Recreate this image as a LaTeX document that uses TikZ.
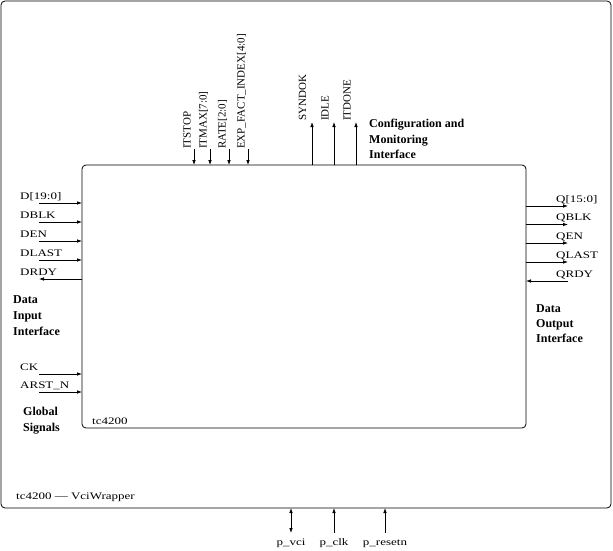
\documentclass[tikz,border=0pt]{standalone}
\usepackage{fontspec}
\setmainfont{Liberation Serif}
\newfontfamily\lblfont[FakeStretch=1.3]{Liberation Serif}
\usetikzlibrary{arrows.meta}
\tikzset{
  sig/.style={line width=0.8pt},
  tip/.style={-{Latex[length=5pt,width=3.6pt]}},
  tiptwo/.style={{Latex[length=5pt,width=3.6pt]}-{Latex[length=5pt,width=3.6pt]}},
  hlabel/.style={font=\lblfont\fontsize{10}{12}\selectfont, anchor=base west, inner sep=0pt},
  vlabel/.style={font=\fontsize{11}{13}\selectfont, rotate=90, anchor=base west, inner sep=0pt},
  grouplbl/.style={font=\bfseries\fontsize{12}{14}\selectfont, anchor=base west, inner sep=0pt},
  box/.style={draw, line width=0.8pt, rounded corners=4pt, inner sep=0pt, outer sep=0pt}
}
\begin{document}
\begin{tikzpicture}[x=1pt,y=-1pt]
\useasboundingbox (0,0) rectangle (613,551);
% boxes
\node[box, minimum width=610pt, minimum height=507pt, anchor=north west] (wrap) at (1,1) {};
\node[box, minimum width=444pt, minimum height=263pt, anchor=north west] (core) at (82,165) {};

% top inputs
\coordinate (itstopS) at (194,149);
\coordinate (itmaxS) at (210,149);
\coordinate (rateS) at (229,149);
\coordinate (expS) at (248,149);
\foreach \c in {itstopS,itmaxS,rateS,expS}{\draw[sig,tip] (\c) -- (\c |- core.north);}
\node[vlabel] (itstopL) at (190.5,149) {ITSTOP};
\node[vlabel] (itmaxL) at (206.5,149) {ITMAX[7:0]};
\node[vlabel] (rateL) at (225.5,149) {RATE[2:0]};
\node[vlabel] (expL) at (244.5,149) {EXP\_FACT\_INDEX[4:0]};

% top outputs
\coordinate (syndokE) at (312,122);
\coordinate (idleE) at (334,122);
\coordinate (itdoneE) at (356,122);
\foreach \c in {syndokE,idleE,itdoneE}{\draw[sig,tip] (\c |- core.north) -- (\c);}
\node[vlabel] (syndokL) at (306,121) {SYNDOK};
\node[vlabel] (idleL) at (328.5,121) {IDLE};
\node[vlabel] (itdoneL) at (350.5,121) {ITDONE};
\node[grouplbl] (cfg1) at (369,127) {Configuration and};
\node[grouplbl] (cfg2) at (369,143) {Monitoring};
\node[grouplbl] (cfg3) at (369,158) {Interface};

% left side
\coordinate (dS) at (39,203);
\coordinate (dblkS) at (39,222);
\coordinate (denS) at (39,241);
\coordinate (dlastS) at (39,260);
\coordinate (drdyE) at (39,279);
\coordinate (ckS) at (39,374);
\coordinate (arstS) at (39,392);
\foreach \c in {dS,dblkS,denS,dlastS,ckS,arstS}{\draw[sig,tip] (\c) -- (\c -| core.west);}
\draw[sig,tip] (drdyE -| core.west) -- (drdyE);
\node[hlabel] (dL) at (20,199) {D[19:0]};
\node[hlabel] (dblkL) at (20,218) {DBLK};
\node[hlabel] (denL) at (20,237) {DEN};
\node[hlabel] (dlastL) at (20,256) {DLAST};
\node[hlabel] (drdyL) at (20,275) {DRDY};
\node[hlabel] (ckL) at (20,370) {CK};
\node[hlabel] (arstL) at (20,388) {ARST\_N};
\node[grouplbl] (din1) at (13,303) {Data};
\node[grouplbl] (din2) at (13,319) {Input};
\node[grouplbl] (din3) at (13,335) {Interface};
\node[grouplbl] (gs1) at (23,415) {Global};
\node[grouplbl] (gs2) at (23,431) {Signals};

% right side
\coordinate (qE) at (568,206);
\coordinate (qblkE) at (568,224.5);
\coordinate (qenE) at (568,243);
\coordinate (qlastE) at (568,262);
\coordinate (qrdyS) at (568,281);
\foreach \c in {qE,qblkE,qenE,qlastE}{\draw[sig,tip] (\c -| core.east) -- (\c);}
\draw[sig,tip] (qrdyS) -- (qrdyS -| core.east);
\node[hlabel] (qL) at (556,202) {Q[15:0]};
\node[hlabel] (qblkL) at (556,220.5) {QBLK};
\node[hlabel] (qenL) at (556,239) {QEN};
\node[hlabel] (qlastL) at (556,258) {QLAST};
\node[hlabel] (qrdyL) at (556,277) {QRDY};
\node[grouplbl] (dout1) at (536,312) {Data};
\node[grouplbl] (dout2) at (536,327) {Output};
\node[grouplbl] (dout3) at (536,342) {Interface};

% names
\node[hlabel] (coreName) at (92,424) {tc4200};
\node[hlabel] (wrapName) at (16,499) {tc4200 \textemdash\ VciWrapper};

% bottom ports
\coordinate (pvciE) at (291,533);
\coordinate (pclkS) at (334,533);
\coordinate (presetS) at (385,533);
\draw[sig,tiptwo] (pvciE) -- (pvciE |- wrap.south);
\draw[sig,tip] (pclkS) -- (pclkS |- wrap.south);
\draw[sig,tip] (presetS) -- (presetS |- wrap.south);
\node[hlabel, anchor=base] (pvciL) at (291,545) {p\_vci};
\node[hlabel, anchor=base] (pclkL) at (334,545) {p\_clk};
\node[hlabel, anchor=base] (presetL) at (385,545) {p\_resetn};
\end{tikzpicture}
\end{document}
